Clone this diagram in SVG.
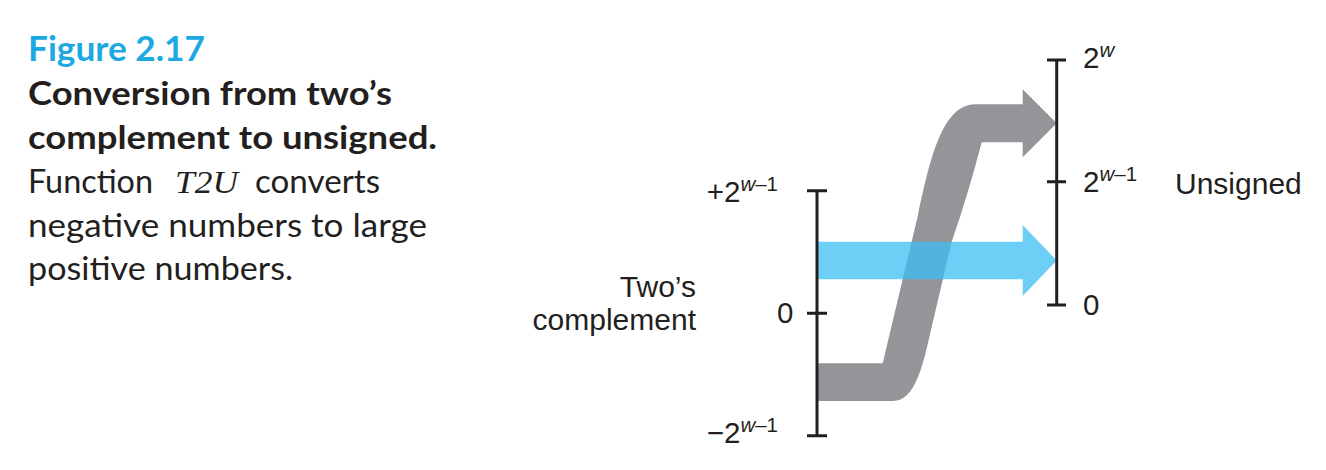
<svg xmlns="http://www.w3.org/2000/svg" width="1326" height="470" viewBox="0 0 1326 470">
<style>
.cap{font-family:Lato,"Open Sans","Liberation Sans",sans-serif;fill:#231f20;font-size:32px}
.capb{font-weight:bold}
.fig{font-family:Lato,"Open Sans","Liberation Sans",sans-serif;fill:#1ca8e1;font-size:34px;font-weight:bold}
.it{font-family:"Liberation Serif",serif;font-style:italic}
.lbl{font-family:"Liberation Sans",Arial,sans-serif;fill:#231f20;font-size:30px}
.tk{font-family:"Liberation Sans",Arial,sans-serif;fill:#231f20;font-size:29.5px}
.sup{font-size:20.5px}
.w{font-style:italic}
.axis{stroke:#231f20;stroke-width:3;fill:none}
</style>
<g id="caption">
<text class="fig" x="28" y="61" textLength="177" lengthAdjust="spacingAndGlyphs">Figure 2.17</text>
<text class="cap capb" x="28" y="105" textLength="364" lengthAdjust="spacingAndGlyphs">Conversion from two’s</text>
<text class="cap capb" x="28" y="149" textLength="409" lengthAdjust="spacingAndGlyphs">complement to unsigned.</text>
<text class="cap" y="193"><tspan x="28" textLength="125" lengthAdjust="spacingAndGlyphs">Function</tspan><tspan class="it" x="175" font-size="31" textLength="63" lengthAdjust="spacingAndGlyphs">T2U</tspan><tspan x="255" textLength="125" lengthAdjust="spacingAndGlyphs">converts</tspan></text>
<text class="cap" x="28" y="236.5" textLength="399" lengthAdjust="spacingAndGlyphs">negative numbers to large</text>
<text class="cap" x="28" y="280" textLength="265" lengthAdjust="spacingAndGlyphs">positive numbers.</text>
</g>
<g id="connectors">
<path id="t2u-gray" fill="#939598" d="M817 363.3 L882.7 363.3 L918 215 C928 170 940 104.3 975 104.3 L1022.7 104.3 L1022.7 89.3 L1056.7 123.3 L1022.7 157.3 L1022.7 142.3 L981.7 142.3 Q968 195 951.7 241.7 L929.8 335 C923 365 915 401 893 401 L817 401 Z"/>
<path id="t2u-blue" fill="#3cbff3" fill-opacity="0.75" d="M817 241.7 L1022.7 241.7 L1022.7 225 L1056.7 260.5 L1022.7 296 L1022.7 279.3 L817 279.3 Z"/>
</g>
<g id="twos-axis">
<path class="axis" d="M817 190.7 V435.7 M807 190.7 H827 M807 313.3 H827 M807 435.7 H827"/>
<text class="tk" x="778" y="201.7" text-anchor="end">+2<tspan class="sup" dy="-11"><tspan class="w">w</tspan>–1</tspan></text>
<text class="tk" x="777" y="323.3">0</text>
<text class="tk" x="778" y="443" text-anchor="end">−2<tspan class="sup" dy="-11"><tspan class="w">w</tspan>–1</tspan></text>
<text class="lbl" x="696" y="296.7" text-anchor="end">Two’s</text>
<text class="lbl" x="696" y="330" text-anchor="end">complement</text>
</g>
<g id="unsigned-axis">
<path class="axis" d="M1056.7 60 V305 M1047 60 H1066 M1047 181.7 H1066 M1047 305 H1066"/>
<text class="tk" x="1083" y="68.3">2<tspan class="sup w" dy="-11">w</tspan></text>
<text class="tk" x="1083" y="191.7">2<tspan class="sup" dy="-11"><tspan class="w">w</tspan>–1</tspan></text>
<text class="tk" x="1083" y="315">0</text>
<text class="lbl" x="1175" y="194">Unsigned</text>
</g>
</svg>
